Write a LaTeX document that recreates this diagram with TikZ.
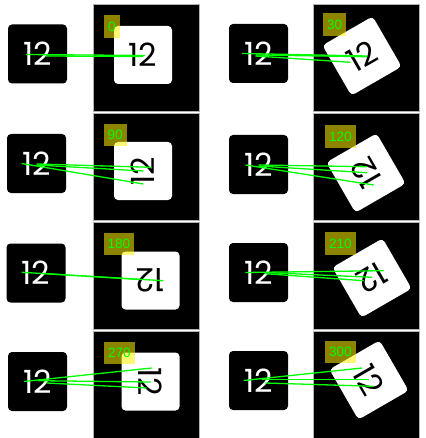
\documentclass[tikz,border=0pt]{standalone}
\usepackage{fontspec}
\setmainfont{Poppins}
\newfontfamily\tagfont{Liberation Sans}
\usepackage{tikz}
\definecolor{matchgreen}{RGB}{0,255,0}

\begin{document}
\begin{tikzpicture}[
  x=1pt, y=-1pt,
  src/.style={fill=black, rounded corners=4pt, minimum size=59pt, inner sep=0pt,
    text=white, font=\fontsize{32}{32}\selectfont},
  photo/.style={fill=black, draw=black!30, line width=0.8pt,
    minimum width=106pt, minimum height=107pt, inner sep=0pt},
  card/.style={fill=white, rounded corners=4pt, minimum size=58pt, inner sep=0pt,
    text=black, font=\fontsize{32}{32}\selectfont},
  tag/.style={anchor=north west, fill=yellow, fill opacity=0.55, text opacity=1,
    text=matchgreen, minimum height=22.7pt, inner xsep=4pt, inner ysep=0pt,
    font=\tagfont\fontsize{13.5}{13.5}\selectfont},
  match/.style={draw=matchgreen, line width=1.3pt}
]
\useasboundingbox (0,0) rectangle (425,438);

% one panel per angle: template, rotated photo, angle tag
\foreach \n/\sx/\sy/\px/\py/\cx/\cy/\a/\tx/\ty in {
  1/37.5/54/146.5/57.5/143/55/0/104/15,
  2/258.5/53.5/366.5/57.5/362/56/30/323/13,
  3/36.5/163.5/146.5/166.5/143/171/90/103.5/123.5,
  4/258.5/164.5/366.5/166.5/366/173/120/325/125,
  5/36/273/146.5/275.5/150.5/280.5/180/103.5/232.5,
  6/258.5/272.5/366.5/275.5/372/278/210/325/232,
  7/37.5/381.5/146.5/384.5/150.5/381.5/270/104/341.5,
  8/258.5/380.5/366.5/384.5/369/380/300/325/340.5}
{
  \node[photo] (img\n) at (\px,\py) {};
  \node[src] (src\n) at (\sx,\sy) {12};
  \node[card, rotate=\a] (card\n) at (\cx,\cy) {12};
  \node[tag] (ang\n) at (\tx,\ty) {\a};
}

% matched keypoints
\draw[match] ([shift={(-11.5,0.5)}]src1.center) -- ([shift={(2,0.5)}]card1.center);
\draw[match] ([shift={(8.5,2)}]src1.center) -- ([shift={(0,1.5)}]card1.center);

\draw[match] ([shift={(-16.5,0)}]src2.center) -- ([shift={(5,0)}]card2.center);
\draw[match] ([shift={(-3,1.5)}]src2.center) -- ([shift={(5,0.7)}]card2.center);
\draw[match] ([shift={(-3,2.5)}]src2.center) -- ([shift={(-11.7,6.3)}]card2.center);

\draw[match] ([shift={(-14.8,0)}]src3.center) -- ([shift={(0.3,13)}]card3.center);
\draw[match] ([shift={(0,0.5)}]src3.center) -- ([shift={(8.7,-3.7)}]card3.center);
\draw[match] ([shift={(0,1.5)}]src3.center) -- ([shift={(0.3,0)}]card3.center);

\draw[match] ([shift={(-13,0.5)}]src4.center) -- ([shift={(7.7,12)}]card4.center);
\draw[match] ([shift={(0,0.5)}]src4.center) -- ([shift={(1,-6.3)}]card4.center);
\draw[match] ([shift={(0,1.5)}]src4.center) -- ([shift={(1,-0.3)}]card4.center);

\draw[match] ([shift={(-14.3,-0.7)}]src5.center) -- ([shift={(12.8,0.2)}]card5.center);
\draw[match] ([shift={(7.3,0.5)}]src5.center) -- ([shift={(-10.5,-1)}]card5.center);

\draw[match] ([shift={(-13.2,0)}]src6.center) -- ([shift={(11.7,-7.3)}]card6.center);
\draw[match] ([shift={(6.8,0)}]src6.center) -- ([shift={(0,-0.7)}]card6.center);
\draw[match] ([shift={(6.8,1.2)}]src6.center) -- ([shift={(-8.3,2.7)}]card6.center);

\draw[match] ([shift={(-13.5,0)}]src7.center) -- ([shift={(1.2,-13.5)}]card7.center);
\draw[match] ([shift={(0.8,-0.8)}]src7.center) -- ([shift={(0.2,0.5)}]card7.center);
\draw[match] ([shift={(9.2,1.5)}]src7.center) -- ([shift={(-3.8,6.5)}]card7.center);

\draw[match] ([shift={(-14.8,0)}]src8.center) -- ([shift={(-7,-12)}]card8.center);
\draw[match] ([shift={(3.5,-0.8)}]src8.center) -- ([shift={(-0.3,-0.3)}]card8.center);
\draw[match] ([shift={(6.8,2.5)}]src8.center) -- ([shift={(4.7,6.3)}]card8.center);
\end{tikzpicture}
\end{document}
